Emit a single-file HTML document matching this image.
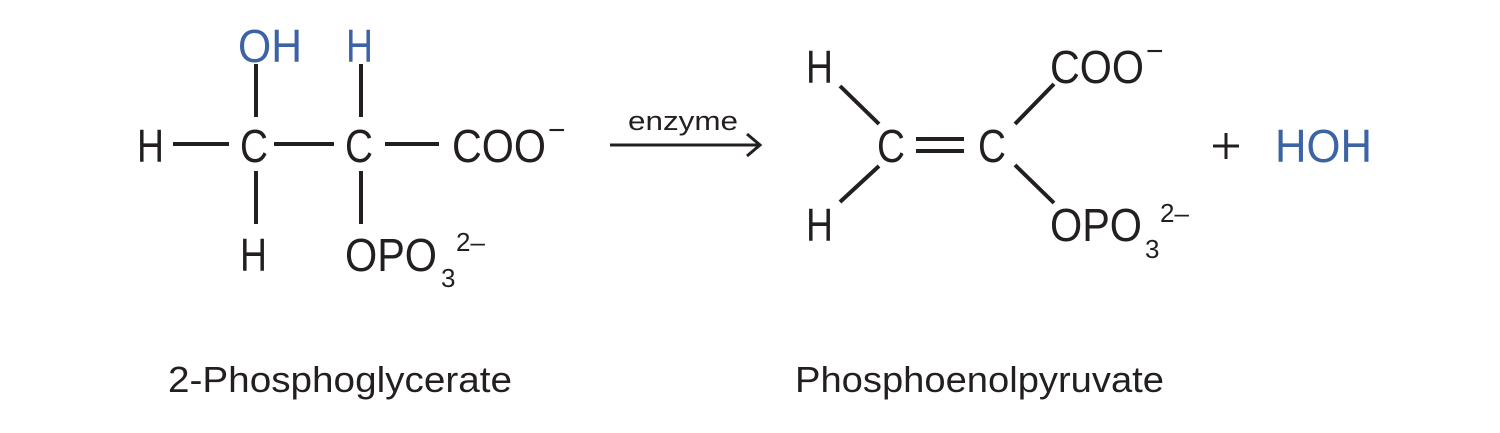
<!DOCTYPE html>
<html><head><meta charset="utf-8"><style>
html,body{margin:0;padding:0;background:#fff;}
svg{display:block;}
text{font-family:"Liberation Sans",sans-serif;fill:#231f20;}
.b{fill:#3c64a4;}
</style></head><body>
<svg width="1500" height="433" viewBox="0 0 1500 433" xmlns="http://www.w3.org/2000/svg">
<g stroke="#231f20" stroke-width="4" fill="none">
<line x1="173" y1="144" x2="229" y2="144"/>
<line x1="274" y1="144" x2="334" y2="144"/>
<line x1="385" y1="144" x2="439" y2="144"/>
<line x1="256" y1="64" x2="256" y2="117"/>
<line x1="256" y1="171" x2="256" y2="224"/>
<line x1="361" y1="64" x2="361" y2="117"/>
<line x1="361" y1="171" x2="361" y2="224"/>
<line x1="610" y1="145" x2="758" y2="145" stroke-width="3"/>
<polyline points="747,134 760,145 747,156" stroke-width="3"/>
<line x1="916" y1="139" x2="964" y2="139"/>
<line x1="916" y1="151" x2="964" y2="151"/>
<line x1="840" y1="86" x2="879" y2="124"/>
<line x1="879" y1="166" x2="840" y2="202"/>
<line x1="1015" y1="124" x2="1054" y2="84"/>
<line x1="1015" y1="165" x2="1054" y2="203"/>
<line x1="1213" y1="146" x2="1239" y2="146" stroke-width="3"/>
<line x1="1226" y1="133" x2="1226" y2="159" stroke-width="3"/>
</g>
<g font-size="46">
<text x="137" y="162" textLength="27" lengthAdjust="spacingAndGlyphs">H</text>
<text x="240" y="162" textLength="28" lengthAdjust="spacingAndGlyphs">C</text>
<text x="345" y="162" textLength="28" lengthAdjust="spacingAndGlyphs">C</text>
<text x="452" y="162" textLength="94" lengthAdjust="spacingAndGlyphs">COO</text>
<text x="548" y="140" font-size="30">−</text>
<text class="b" x="238" y="62" textLength="64" lengthAdjust="spacingAndGlyphs">OH</text>
<text class="b" x="346" y="62" textLength="27" lengthAdjust="spacingAndGlyphs">H</text>
<text x="240" y="271" textLength="27" lengthAdjust="spacingAndGlyphs">H</text>
<text x="345" y="271" textLength="92" lengthAdjust="spacingAndGlyphs">OPO</text>
<text x="441" y="287" font-size="26">3</text>
<text x="456" y="251" font-size="26">2–</text>
<text x="806" y="83" textLength="27" lengthAdjust="spacingAndGlyphs">H</text>
<text x="806" y="241" textLength="27" lengthAdjust="spacingAndGlyphs">H</text>
<text x="877" y="162" textLength="28" lengthAdjust="spacingAndGlyphs">C</text>
<text x="978" y="162" textLength="28" lengthAdjust="spacingAndGlyphs">C</text>
<text x="1050" y="83" textLength="94" lengthAdjust="spacingAndGlyphs">COO</text>
<text x="1146" y="61" font-size="30">−</text>
<text x="1050" y="241" textLength="92" lengthAdjust="spacingAndGlyphs">OPO</text>
<text x="1145" y="258" font-size="26">3</text>
<text x="1160" y="222" font-size="26">2–</text>
<text class="b" x="1275" y="162" textLength="97" lengthAdjust="spacingAndGlyphs">HOH</text>
</g>
<text x="628" y="130" font-size="27" textLength="110" lengthAdjust="spacingAndGlyphs">enzyme</text>
<text x="168" y="392" font-size="36" textLength="344" lengthAdjust="spacingAndGlyphs">2-Phosphoglycerate</text>
<text x="795" y="392" font-size="36" textLength="369" lengthAdjust="spacingAndGlyphs">Phosphoenolpyruvate</text>
</svg>
</body></html>
